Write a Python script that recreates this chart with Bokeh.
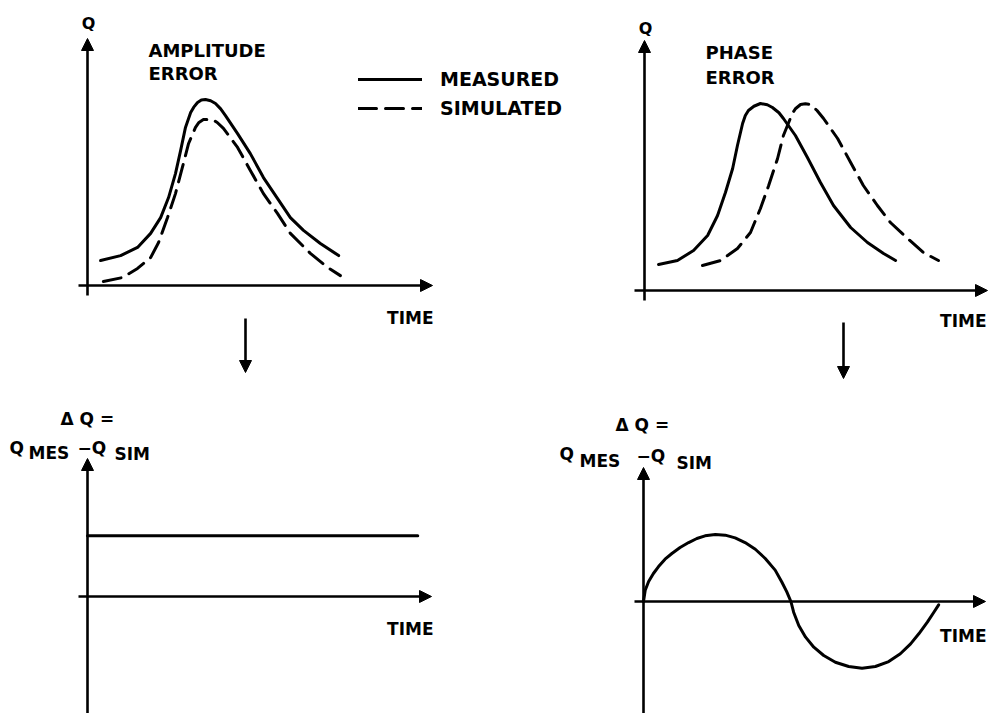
from bokeh.plotting import figure
from bokeh.models import Range1d, Arrow, NormalHead, Label, Legend, LegendItem
from bokeh.embed import file_html
from bokeh.resources import INLINE

# ---------------- data (local units: time 0..10 to arrow tip, Q 0..10 to arrow tip) ----------------
# Amplitude error panel
amp_time_measured = [0.38, 0.96, 1.45, 1.83, 2.12, 2.35, 2.55, 2.70, 2.84, 2.99, 3.08, 3.19, 3.30, 3.42,
                     3.57, 3.71, 3.86, 4.00, 4.35, 4.72, 5.10, 5.51, 5.88, 6.26, 6.75, 7.28]
amp_q_measured = [1.01, 1.21, 1.54, 2.11, 2.75, 3.56, 4.53, 5.47, 6.40, 7.00, 7.22, 7.41, 7.51, 7.53,
                  7.48, 7.37, 7.15, 6.88, 6.15, 5.34, 4.37, 3.52, 2.75, 2.23, 1.70, 1.21]
amp_time_simulated = [0.46, 1.01, 1.45, 1.83, 2.06, 2.32, 2.55, 2.75, 2.93, 3.13, 3.23, 3.36, 3.62,
                      3.76, 3.94, 4.35, 4.72, 5.10, 5.51, 5.88, 6.46, 6.96, 7.33]
amp_q_simulated = [0.16, 0.32, 0.69, 1.13, 1.74, 2.75, 3.72, 4.78, 5.75, 6.40, 6.60, 6.72, 6.72,
                   6.60, 6.36, 5.59, 4.66, 3.72, 2.91, 2.11, 1.30, 0.73, 0.40]

# Phase error panel
ph_time_measured = [0.41, 0.96, 1.43, 1.84, 2.13, 2.36, 2.57, 2.71, 2.86, 2.94, 3.03, 3.19, 3.38,
                    3.58, 3.73, 3.92, 4.05, 4.40, 4.75, 5.13, 5.51, 6.01, 6.50, 6.97, 7.32]
ph_q_measured = [1.04, 1.20, 1.60, 2.20, 3.00, 3.92, 4.88, 5.80, 6.68, 7.00, 7.20, 7.37, 7.48,
                 7.43, 7.32, 7.11, 6.88, 6.20, 5.32, 4.32, 3.40, 2.52, 1.92, 1.48, 1.20]
ph_time_simulated = [1.69, 2.22, 2.71, 3.09, 3.38, 3.62, 3.88, 4.05, 4.31, 4.40, 4.55, 4.69, 4.84,
                     5.03, 5.22, 5.63, 6.01, 6.38, 6.79, 7.17, 7.67, 8.13, 8.57]
ph_q_simulated = [1.00, 1.20, 1.68, 2.32, 3.28, 4.20, 5.28, 6.20, 7.08, 7.27, 7.44, 7.47, 7.44,
                  7.20, 6.88, 6.08, 5.12, 4.20, 3.40, 2.72, 2.08, 1.52, 1.20]

# Difference panels
amp_diff_time = [0.0, 9.6]
amp_diff_dq = [4.4, 4.4]
ph_diff_time = [0.0, 0.05, 0.15, 0.29, 0.44, 0.63, 0.83, 1.07, 1.32, 1.56, 1.80, 2.10, 2.39, 2.68,
                2.97, 3.27, 3.56, 3.85, 4.04, 4.19, 4.31, 4.39, 4.54, 4.74, 4.98, 5.27, 5.61, 6.00,
                6.39, 6.78, 7.17, 7.51, 7.81, 8.05, 8.30, 8.49, 8.63]
ph_diff_dq = [0.0, 0.84, 1.49, 2.09, 2.61, 3.16, 3.58, 4.03, 4.40, 4.70, 4.90, 5.00, 4.95, 4.75,
              4.40, 3.90, 3.21, 2.34, 1.47, 0.72, 0.0, -0.80, -1.79, -2.66, -3.41, -4.03, -4.53, -4.85,
              -4.98, -4.85, -4.48, -3.90, -3.16, -2.41, -1.54, -0.80, -0.25]

legend_labels = ["MEASURED", "SIMULATED"]
amp_title = ["AMPLITUDE", "ERROR"]
ph_title = ["PHASE", "ERROR"]
q_label = "Q"
time_label = "TIME"

# ---------------- layout ----------------
W, H = 988, 713
OFF = 0
# panel: (x of y-axis, x of time arrow tip, y of time axis, y of Q arrow tip) in page pixels
PANELS = {
    "tl": (87, 432, 285, 38),
    "tr": (644, 987, 290, 40),
    "bl": (87, 431, 596, 458),
    "br": (643, 985, 601, 467),
}


def make_ranges(x0, xtip, y0, ytip):
    ux = 10.0 / (xtip - x0)
    uy = 10.0 / (y0 - ytip)
    xr = Range1d((OFF - x0) * ux, (OFF + W - x0) * ux)
    yr = Range1d((y0 - (OFF + H)) * uy, (y0 - OFF) * uy)
    return xr, yr


def loc(name, X, Y):
    x0, xtip, y0, ytip = PANELS[name]
    return (X - x0) * 10.0 / (xtip - x0), (y0 - Y) * 10.0 / (y0 - ytip)


p = figure(width=W, height=H, x_range=Range1d(0, 1), y_range=Range1d(0, 1),
           x_axis_type=None, y_axis_type=None, output_backend="svg",
           toolbar_location=None, min_border=0)
p.outline_line_color = None
p.background_fill_color = "white"
p.border_fill_color = "white"

for name, spec in PANELS.items():
    xr, yr = make_ranges(*spec)
    p.extra_x_ranges[name] = xr
    p.extra_y_ranges[name] = yr

FONT = "DejaVu Sans"
AX_W = 2.6
CURVE_W = 3
DASH = "18 9"


def arrow(name, X1, Y1, X2, Y2, size=12):
    xs, ys = loc(name, X1, Y1)
    xe, ye = loc(name, X2, Y2)
    p.add_layout(Arrow(end=NormalHead(size=size, fill_color="black", line_color="black", line_width=1),
                       x_start=xs, y_start=ys, x_end=xe, y_end=ye,
                       line_width=AX_W, line_color="black",
                       x_range_name=name, y_range_name=name))


def label(name, X, Y, text, size=18, align="left"):
    x, y = loc(name, X, Y)
    p.add_layout(Label(x=x, y=y, text=text, text_font=FONT, text_font_style="bold",
                       text_font_size=f"{size}px", text_align=align, text_baseline="alphabetic",
                       text_color="black", x_range_name=name, y_range_name=name))


def axes(name, xleft, ybottom):
    x0, xtip, y0, ytip = PANELS[name]
    arrow(name, xleft, y0, xtip, y0)       # time axis
    arrow(name, x0, ybottom, x0, ytip)     # Q axis


# axes
axes("tl", 78, 295)
axes("tr", 634, 300)
axes("bl", 78, 713)
axes("br", 634, 713)

# down arrows between rows
arrow("tl", 245, 318, 245, 372, size=12)
arrow("tr", 843, 322, 843, 378, size=12)

# curves
kw = dict(color="black", line_width=CURVE_W, line_join="round", line_cap="round")
r_mes = p.line(amp_time_measured, amp_q_measured, x_range_name="tl", y_range_name="tl", **kw)
r_sim = p.line(amp_time_simulated, amp_q_simulated, x_range_name="tl", y_range_name="tl",
               line_dash=DASH, **kw)
p.line(ph_time_measured, ph_q_measured, x_range_name="tr", y_range_name="tr", **kw)
p.line(ph_time_simulated, ph_q_simulated, x_range_name="tr", y_range_name="tr", line_dash=DASH, **kw)
p.line(amp_diff_time, amp_diff_dq, x_range_name="bl", y_range_name="bl", **kw)
p.line(ph_diff_time, ph_diff_dq, x_range_name="br", y_range_name="br", **kw)

# legend
legend = Legend(items=[LegendItem(label=legend_labels[0], renderers=[r_mes]),
                       LegendItem(label=legend_labels[1], renderers=[r_sim])],
                location=(358 - OFF, H - (119 - OFF)), orientation="vertical",
                glyph_width=64, glyph_height=20, label_height=20, spacing=7,
                label_standoff=18, padding=0, margin=0,
                border_line_alpha=0, background_fill_alpha=0,
                label_text_font=FONT, label_text_font_style="bold", label_text_font_size="19px",
                label_text_color="black")
p.add_layout(legend)

# texts: top-left
label("tl", 88, 23, q_label, size=16, align="center")
label("tl", 148, 50, amp_title[0], size=18)
label("tl", 148, 73, amp_title[1], size=18)
label("tl", 433, 317, time_label, size=17, align="right")
# top-right
label("tr", 645, 28, q_label, size=16, align="center")
label("tr", 705, 52, ph_title[0], size=18)
label("tr", 705, 77, ph_title[1], size=18)
label("tr", 986, 320, time_label, size=17, align="right")
# bottom-left
label("bl", 60, 418, "Δ Q =", size=17)
label("bl", 9, 447, "Q", size=17)
label("bl", 28, 452, "MES", size=17)
label("bl", 77, 447, "−Q", size=17)
label("bl", 114, 453, "SIM", size=17)
label("bl", 433, 628, time_label, size=17, align="right")
# bottom-right
label("br", 615, 424, "Δ Q =", size=17)
label("br", 559, 453, "Q", size=17)
label("br", 579, 460, "MES", size=17)
label("br", 636, 455, "−Q", size=17)
label("br", 676, 462, "SIM", size=17)
label("br", 986, 635, time_label, size=17, align="right")

open("out.html", "w").write(file_html(p, INLINE))
